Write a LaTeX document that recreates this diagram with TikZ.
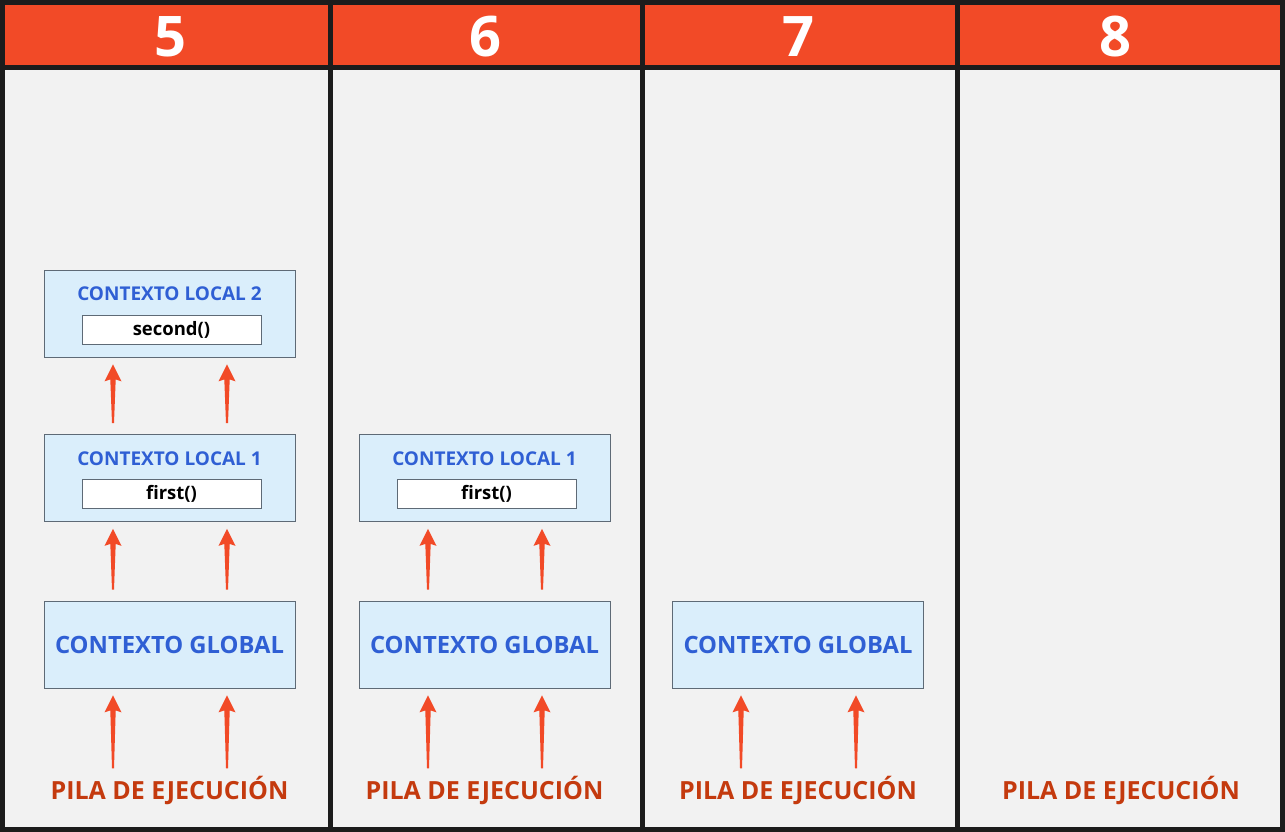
\documentclass[tikz,border=0pt]{standalone}
\usepackage{fontspec}
\setmainfont{Open Sans}
\usetikzlibrary{calc}
\definecolor{headred}{HTML}{F24A27}
\definecolor{bodygray}{HTML}{F2F2F2}
\definecolor{framegray}{HTML}{1C1C1C}
\definecolor{boxblue}{HTML}{DAEEFB}
\definecolor{boxline}{HTML}{5E6A76}
\definecolor{ctxblue}{HTML}{2F5FD4}
\definecolor{pilared}{HTML}{C43A0E}
% tapered arrow from below node #1 up to node #2, shifted by #3
\newcommand{\stackarrow}[3]{%
  \coordinate (tail) at ($(#1.north)+(#3,-11)$);
  \coordinate (tip) at ($(#2.south)+(#3,7)$);
  \fill[headred] ($(tail)+(-1,0)$) -- ($(tip)+(-2.7,15)$) -- ($(tip)+(-8.5,17)$) -- (tip)
    -- ($(tip)+(8.5,17)$) -- ($(tip)+(2.7,15)$) -- ($(tail)+(1,0)$) -- cycle;}
\begin{document}
\begin{tikzpicture}[x=1pt, y=-1pt,
    frame/.style={line width=5pt, draw=framegray},
    ctxbox/.style={draw=boxline, fill=boxblue, line width=0.8pt, minimum width=251pt, minimum height=87pt, inner sep=0pt, text=ctxblue, font=\fontsize{23.8}{25}\selectfont\bfseries},
    ctxtitle/.style={text=ctxblue, inner sep=0pt, font=\fontsize{19}{20}\selectfont\bfseries},
    fnbox/.style={draw=boxline, fill=white, line width=0.8pt, minimum width=179pt, minimum height=29pt, inner sep=0pt, font=\fontsize{18.5}{20}\selectfont\bfseries},
    pila/.style={text=pilared, inner sep=0pt, text height=20pt, anchor=base, font=\fontsize{25}{26}\selectfont\bfseries},
    stepnum/.style={text=white, inner sep=0pt, anchor=base, font=\fontsize{56}{56}\selectfont\bfseries}]
  \useasboundingbox (0,0) rectangle (1285,832);
  \fill[bodygray] (0,0) rectangle (1285,832);
  \fill[headred] (0,0) rectangle (1285,67.5);

  % step numbers
  \node[stepnum] (n5) at (170,57) {5};
  \node[stepnum] (n6) at (485,57) {6};
  \node[stepnum] (n7) at (798,57) {7};
  \node[stepnum] (n8) at (1115,57) {8};

  % column 5
  \node[ctxbox] (l25) at (169.5,313.5) {};
  \node[ctxtitle] (t25) at (169.5,293.5) {CONTEXTO LOCAL 2};
  \node[fnbox] (f25) at (171.5,329.5) {second()};
  \node[ctxbox] (l15) at (169.5,478) {};
  \node[ctxtitle] (t15) at (169.5,458.5) {CONTEXTO LOCAL 1};
  \node[fnbox] (f15) at (171.5,494) {first()};
  \node[ctxbox] (g5) at (169.5,644.5) {CONTEXTO GLOBAL};
  \node[pila] (p5) at (169.5,799.5) {PILA DE EJECUCIÓN};

  % column 6
  \node[ctxbox] (l16) at (484.5,478) {};
  \node[ctxtitle] (t16) at (484.5,458.5) {CONTEXTO LOCAL 1};
  \node[fnbox] (f16) at (486.5,494) {first()};
  \node[ctxbox] (g6) at (484.5,644.5) {CONTEXTO GLOBAL};
  \node[pila] (p6) at (484.5,799.5) {PILA DE EJECUCIÓN};

  % column 7
  \node[ctxbox] (g7) at (798,644.5) {CONTEXTO GLOBAL};
  \node[pila] (p7) at (798,799.5) {PILA DE EJECUCIÓN};

  % column 8
  \node[pila] (p8) at (1121,799.5) {PILA DE EJECUCIÓN};

  % arrows
  \stackarrow{p5}{g5}{-56.5}
  \stackarrow{p5}{g5}{57.5}
  \stackarrow{g5}{l15}{-56.5}
  \stackarrow{g5}{l15}{57.5}
  \stackarrow{l15}{l25}{-56.5}
  \stackarrow{l15}{l25}{57.5}
  \stackarrow{p6}{g6}{-56.5}
  \stackarrow{p6}{g6}{57.5}
  \stackarrow{g6}{l16}{-56.5}
  \stackarrow{g6}{l16}{57.5}
  \stackarrow{p7}{g7}{-57}
  \stackarrow{p7}{g7}{58}

  % frame lines
  \draw[frame] (2.5,2.5) rectangle (1282.5,829.5);
  \draw[frame] (0,67.5) -- (1285,67.5);
  \draw[frame] (330,0) -- (330,832);
  \draw[frame] (642,0) -- (642,832);
  \draw[frame] (957,0) -- (957,832);
\end{tikzpicture}
\end{document}
